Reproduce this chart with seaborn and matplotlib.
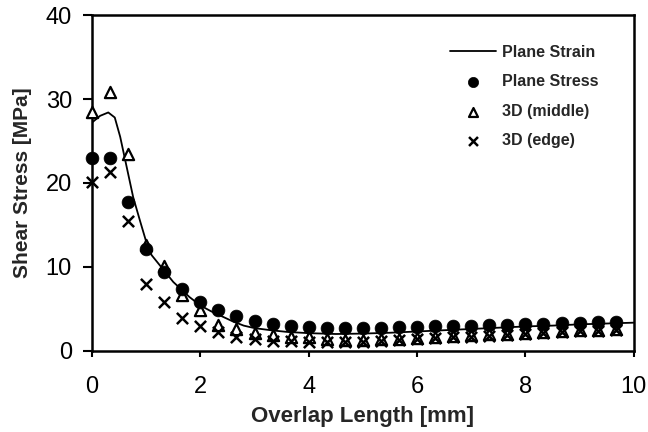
import numpy as np
import pandas as pd
import matplotlib
matplotlib.use("Agg")
import matplotlib.pyplot as plt
import seaborn as sns
from matplotlib.ticker import MultipleLocator

# ---- data ----
x_pts = [i / 3 for i in range(30)]
plane_stress = [23.0, 23.0, 17.7, 12.1, 9.4, 7.4, 5.8, 4.9, 4.1, 3.6,
                3.25, 3.0, 2.85, 2.75, 2.7, 2.7, 2.75, 2.8, 2.85, 2.9,
                2.95, 3.0, 3.05, 3.1, 3.15, 3.25, 3.3, 3.35, 3.4, 3.4]
d3_middle = [28.4, 30.8, 23.5, 12.6, 10.1, 6.6, 4.9, 3.1, 2.6, 2.1,
             1.85, 1.7, 1.6, 1.45, 1.3, 1.3, 1.4, 1.45, 1.55, 1.65,
             1.75, 1.85, 1.95, 2.05, 2.15, 2.25, 2.35, 2.45, 2.5, 2.55]
d3_edge = [20.1, 21.3, 15.5, 7.9, 5.85, 3.9, 2.9, 2.2, 1.7, 1.4,
           1.2, 1.15, 1.1, 1.05, 1.05, 1.1, 1.2, 1.3, 1.4, 1.5,
           1.6, 1.7, 1.8, 1.9, 2.0, 2.1, 2.2, 2.3, 2.4, 2.45]
x_line = [0.0, 0.15, 0.3, 0.42, 0.52, 0.64, 0.76, 0.89, 1.0, 1.1, 1.3, 1.5,
          1.8, 2.0, 2.2, 2.4, 2.6, 2.8, 3.0, 3.3, 3.6, 4.0, 4.5, 5.0, 5.5,
          6.0, 6.5, 7.0, 7.5, 8.0, 8.5, 9.0, 9.5, 10.0]
plane_strain = [27.2, 28.0, 28.4, 27.8, 25.5, 21.9, 18.3, 15.4, 13.0, 11.4, 9.8, 8.2,
                6.4, 5.4, 4.7, 4.1, 3.5, 3.0, 2.7, 2.45, 2.25, 2.1, 2.0, 2.05, 2.15,
                2.3, 2.45, 2.6, 2.75, 2.9, 3.0, 3.15, 3.25, 3.35]

x_ticks = [0, 2, 4, 6, 8, 10]
y_ticks = [0, 10, 20, 30, 40]

sns.set_theme(style="white")
plt.rcParams['font.family'] = ['Liberation Sans', 'DejaVu Sans']
plt.rcParams['font.weight'] = 'bold'

fig = plt.figure(figsize=(6.48, 4.32), dpi=100)
ax = fig.add_axes([0.142, 0.188, 0.836, 0.777])

df_line = pd.DataFrame({"x": x_line, "y": plane_strain})
df_pts = pd.DataFrame({"x": x_pts, "ps": plane_stress, "mid": d3_middle, "edge": d3_edge})

sns.lineplot(data=df_line, x="x", y="y", ax=ax, color="black", linewidth=1.3,
             label="Plane Strain", zorder=2)
sns.scatterplot(data=df_pts, x="x", y="ps", ax=ax, marker="o", s=85, color="black",
                edgecolor="black", linewidth=0.5, label="Plane Stress", zorder=4,
                clip_on=False)
sns.scatterplot(data=df_pts, x="x", y="mid", ax=ax, marker="^", s=65, facecolor="white",
                edgecolor="black", linewidth=1.6, label="3D (middle)", zorder=3,
                clip_on=False)
sns.scatterplot(data=df_pts, x="x", y="edge", ax=ax, marker="x", s=65, color="black",
                linewidth=1.8, label="3D (edge)", zorder=3, clip_on=False)

ax.set_xlim(0, 10)
ax.set_ylim(0, 40)
ax.set_xticks(x_ticks)
ax.set_yticks(y_ticks)
ax.yaxis.set_minor_locator(MultipleLocator(5))
ax.tick_params(axis="both", which="major", direction="out", width=1.5,
               labelsize=17, color="black", labelcolor="black")
ax.tick_params(axis="y", which="major", length=6.5, pad=8)
ax.tick_params(axis="x", which="major", length=4, pad=14)
ax.tick_params(axis="y", which="minor", direction="out", length=3.5, width=1.2, color="black")
ax.tick_params(left=True, bottom=True)
for lab in ax.get_xticklabels() + ax.get_yticklabels():
    lab.set_fontweight("normal")

for s in ax.spines.values():
    s.set_visible(True)
    s.set_color("black")
    s.set_linewidth(1.8)

ax.set_xlabel("Overlap Length [mm]", fontsize=16, fontweight="bold", labelpad=6)
ax.set_ylabel("Shear Stress [MPa]", fontsize=15, fontweight="bold", labelpad=10)

leg = ax.legend(loc="upper left", bbox_to_anchor=(450 / 648, 1 - 45 / 432),
                bbox_transform=fig.transFigure, frameon=False, borderpad=0,
                borderaxespad=0, fontsize=11.5, labelspacing=0.9, handlelength=2.9,
                handletextpad=0.35, markerscale=0.8)
for t in leg.get_texts():
    t.set_fontweight("bold")

ax.grid(False)
fig.savefig("out.png", dpi=100)
